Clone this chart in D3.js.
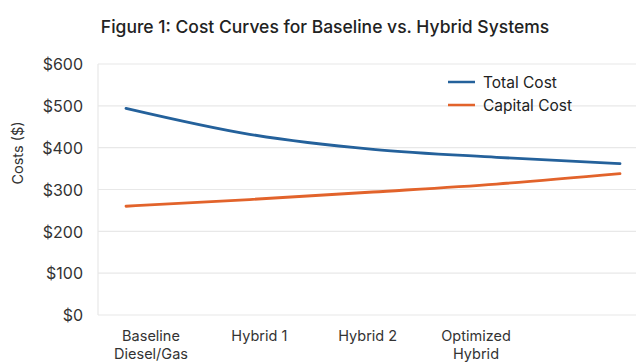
<!DOCTYPE html>
<html>
<head>
<meta charset="utf-8">
<script src="https://cdn.jsdelivr.net/npm/d3@7"></script>
<style>
  html, body { margin: 0; padding: 0; background: #fff; }
  svg { display: block; font-family: Inter, "Noto Sans", sans-serif; }
</style>
</head>
<body>
<svg id="chart" width="639" height="363"></svg>
<script>
// Cost curve data: five design stages from baseline to the final hybrid
const stages = ["S0", "S1", "S2", "S3", "S4"];
const totalCost = [494, 432, 396, 377, 362];
const capitalCost = [260, 276, 294, 313, 338];

// Category labels shown beneath the plot
const stageLabels = [["Baseline", "Diesel/Gas"], ["Hybrid 1"], ["Hybrid 2"], ["Optimized", "Hybrid"]];
const yTicks = [0, 100, 200, 300, 400, 500, 600];

const seriesNames = ["Total Cost", "Capital Cost"];
const seriesColors = ["#24619b", "#e2632b"];

const svg = d3.select("#chart");
const plot = { left: 98, right: 636, top: 64, bottom: 315 };

const y = d3.scaleLinear().domain([0, 600]).range([plot.bottom, plot.top]);
const xLine = d3.scalePoint().domain(stages).range([126, 620]);
const xLabel = d3.scalePoint().domain(stageLabels.map(d => d.join(" "))).range([151, 476]);

// Title
svg.append("text")
  .attr("x", 325).attr("y", 33)
  .attr("text-anchor", "middle")
  .attr("font-size", 17.5).attr("font-weight", 500)
  .attr("fill", "#222")
  .text("Figure 1: Cost Curves for Baseline vs. Hybrid Systems");

// Horizontal gridlines
svg.append("g").selectAll("line").data(yTicks).join("line")
  .attr("x1", plot.left).attr("x2", plot.right)
  .attr("y1", d => y(d)).attr("y2", d => y(d))
  .attr("stroke", "#e8e8e8").attr("stroke-width", 1.2);

// Left frame line
svg.append("line")
  .attr("x1", plot.left).attr("x2", plot.left)
  .attr("y1", plot.top).attr("y2", plot.bottom)
  .attr("stroke", "#e8e8e8").attr("stroke-width", 1.2);

// Y axis labels
const yAxis = d3.axisLeft(y).tickValues(yTicks).tickFormat(d => "$" + d).tickSize(0).tickPadding(0);
const yg = svg.append("g").attr("transform", "translate(83,0)").call(yAxis);
yg.select(".domain").remove();
yg.selectAll("text")
  .attr("font-family", "Inter, sans-serif")
  .attr("font-size", 16).attr("fill", "#333").attr("dy", "0.36em");

svg.append("text")
  .attr("transform", "translate(23,153) rotate(-90)")
  .attr("text-anchor", "middle")
  .attr("font-size", 14.5).attr("fill", "#333")
  .text("Costs ($)");

// X axis labels, one text element per line
const xg = svg.append("g").attr("transform", "translate(0,341)");
stageLabels.forEach(lines => {
  const key = lines.join(" ");
  lines.forEach((ln, i) => {
    xg.append("text")
      .attr("x", xLabel(key))
      .attr("y", i * 18)
      .attr("text-anchor", "middle")
      .attr("font-size", 14.5).attr("fill", "#333")
      .text(ln);
  });
});

// Cost curves
const line = d3.line()
  .x((d, i) => xLine(stages[i]))
  .y(d => y(d))
  .curve(d3.curveMonotoneX);

[totalCost, capitalCost].forEach((vals, i) => {
  svg.append("path")
    .datum(vals)
    .attr("d", line)
    .attr("fill", "none")
    .attr("stroke", seriesColors[i])
    .attr("stroke-width", 2.8)
    .attr("stroke-linecap", "round");
});

// Legend
const legend = svg.append("g");
seriesNames.forEach((name, i) => {
  const ly = 82 + i * 23;
  legend.append("line")
    .attr("x1", 448).attr("x2", 475)
    .attr("y1", ly).attr("y2", ly)
    .attr("stroke", seriesColors[i]).attr("stroke-width", 2.5);
  legend.append("text")
    .attr("x", 483).attr("y", ly)
    .attr("dy", "0.36em")
    .attr("font-size", 15.5).attr("fill", "#222")
    .text(name);
});
</script>
</body>
</html>
